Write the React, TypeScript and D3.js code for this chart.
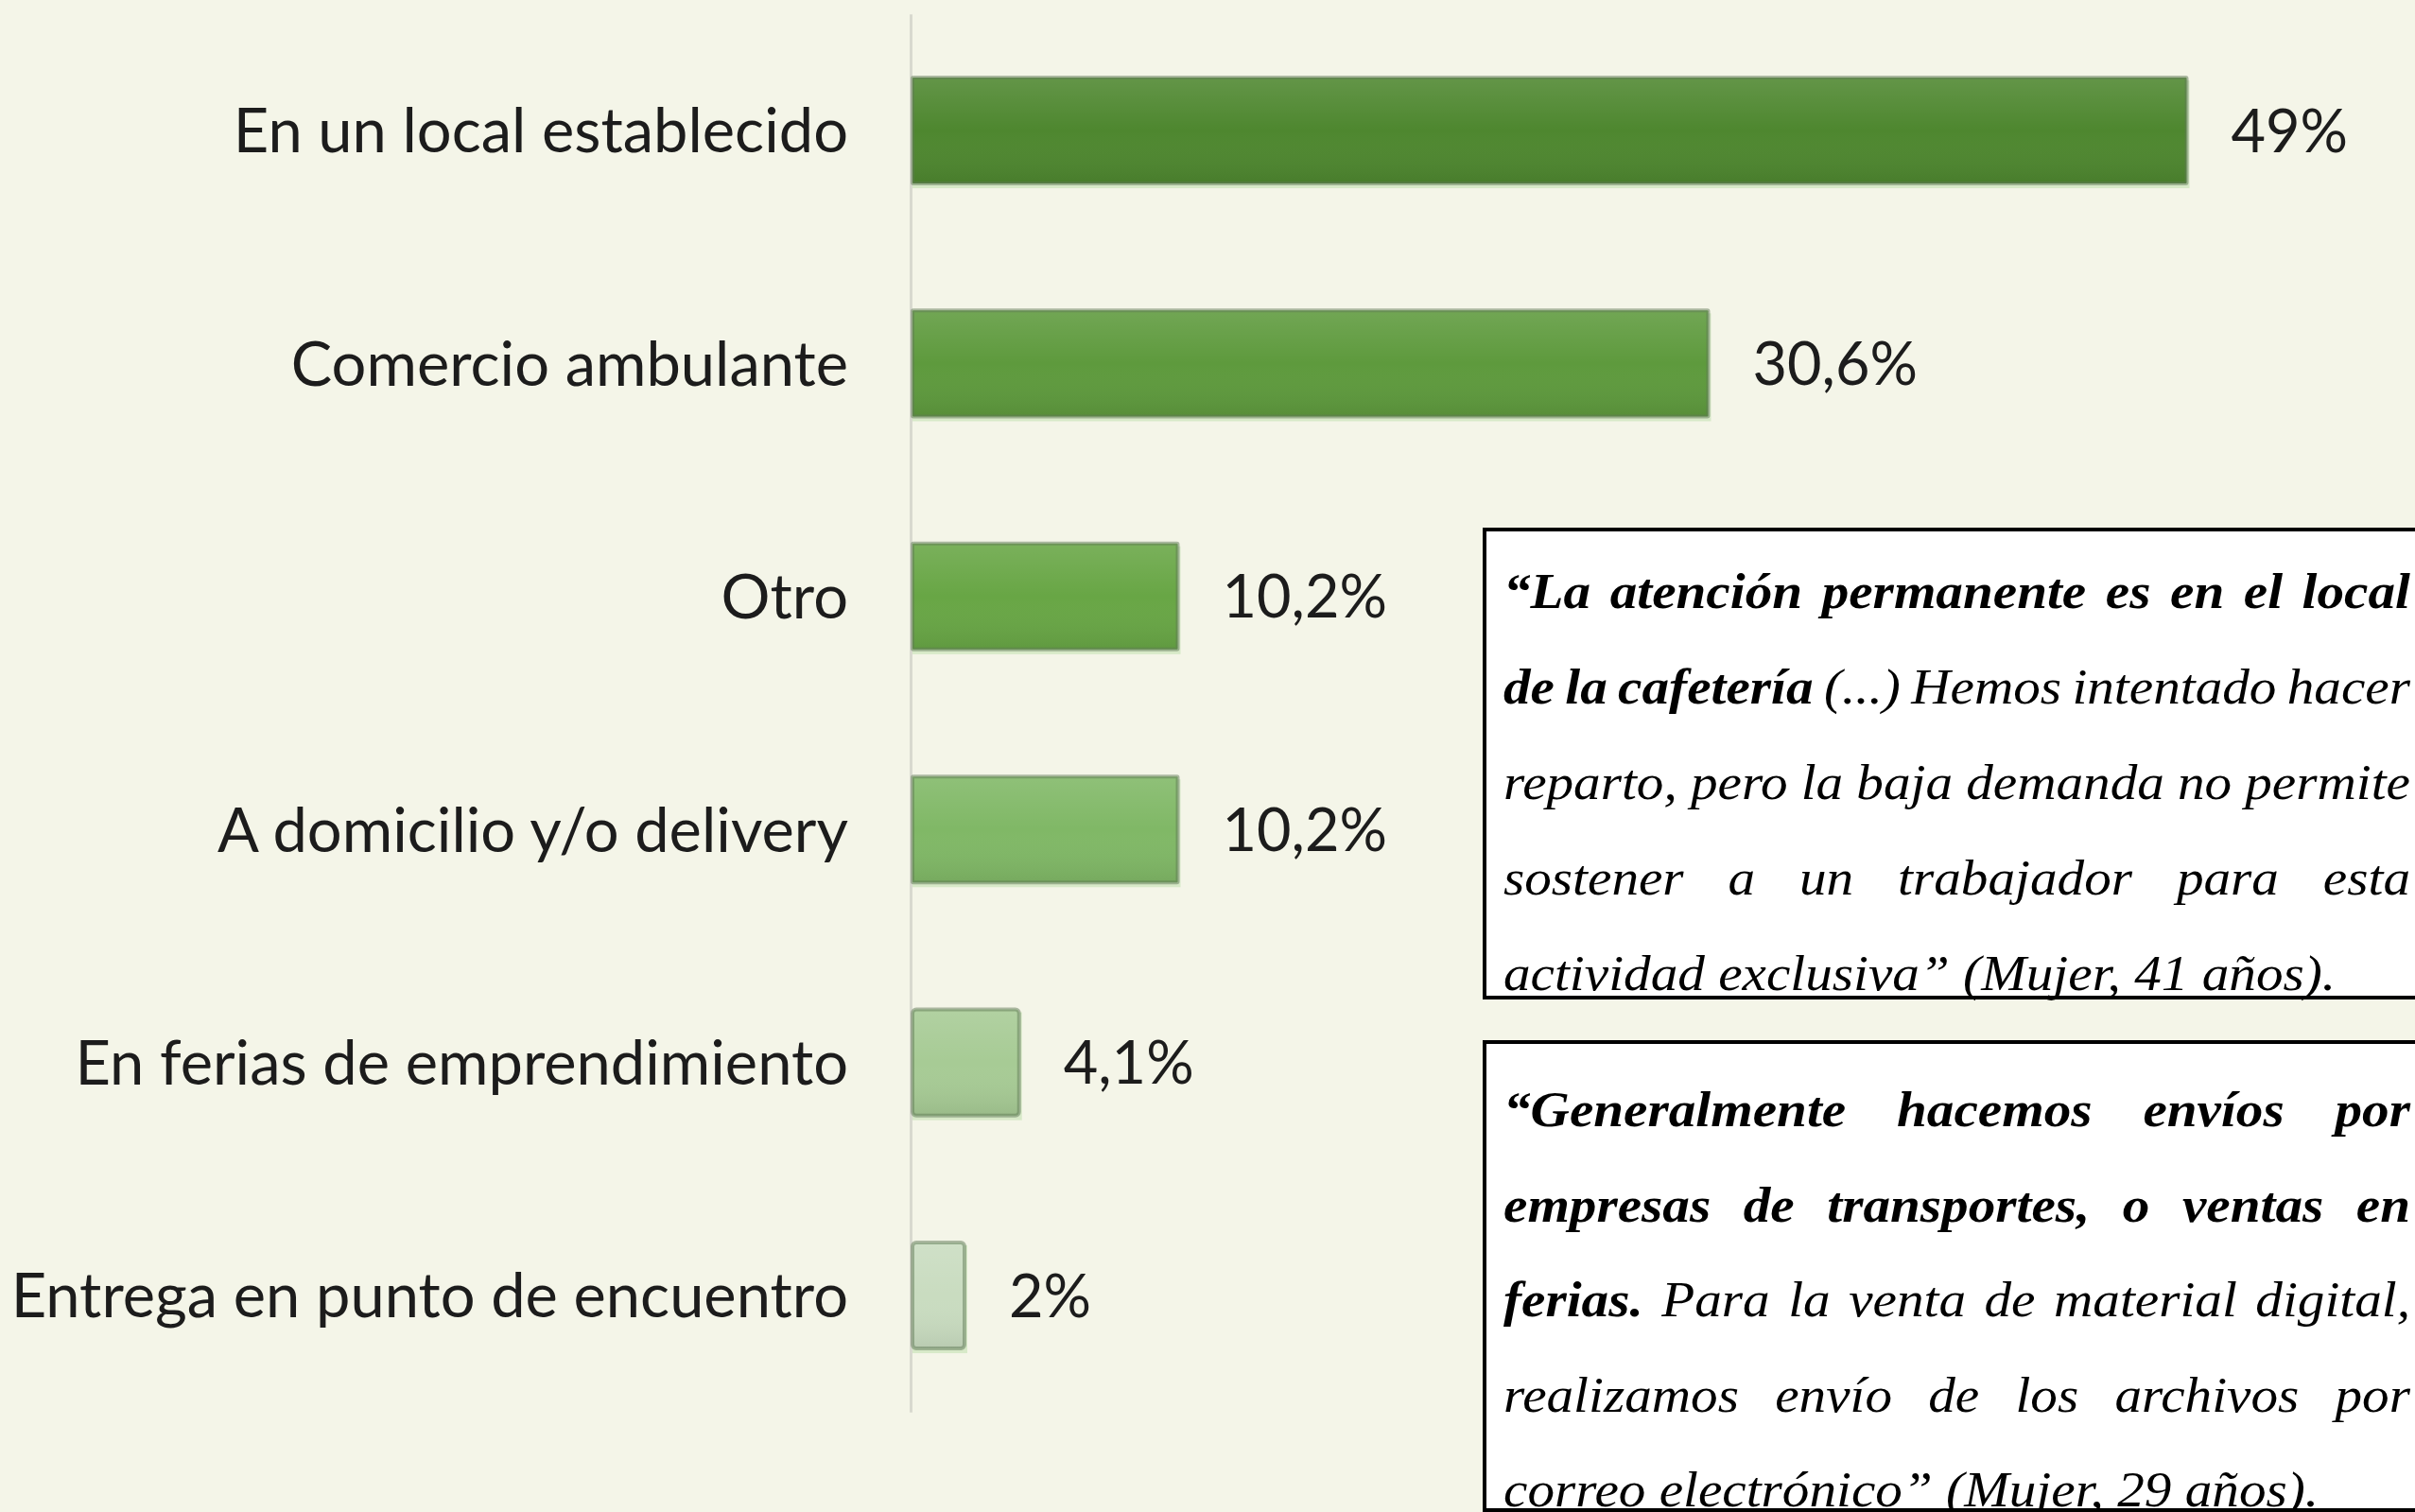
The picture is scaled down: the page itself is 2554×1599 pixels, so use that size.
import React, { useEffect, useRef } from "react";
import * as d3 from "d3";

// chart data
const categories = [
  "En un local establecido",
  "Comercio ambulante",
  "Otro",
  "A domicilio y/o delivery",
  "En ferias de emprendimiento",
  "Entrega en punto de encuentro",
];
const values = [49, 30.6, 10.2, 10.2, 4.1, 2];

// quote boxes: each line is [bold part, regular part]
const quoteOneLines = [
  ["“La atención permanente es en el local", ""],
  ["de la cafetería", "(...) Hemos intentado hacer"],
  ["", "reparto, pero la baja demanda no permite"],
  ["", "sostener a un trabajador para esta"],
  ["", "actividad exclusiva” (Mujer, 41 años)."],
];
const quoteTwoLines = [
  ["“Generalmente hacemos envíos por", ""],
  ["empresas de transportes, o ventas en", ""],
  ["ferias.", "Para la venta de material digital,"],
  ["", "realizamos envío de los archivos por"],
  ["", "correo electrónico” (Mujer, 29 años)."],
];

const barColors = ["#4e872f", "#5e9a3d", "#68a645", "#80b866", "#a7cb95", "#c9dcc0"];

const W = 2554;
const H = 1599;
const labelFont = "Lato, 'Open Sans', sans-serif";
const quoteFont = "'Liberation Serif', 'Times New Roman', serif";
const quoteSize = 52;
const quoteStretch = 1.1;

const esLocale = d3.formatLocale({
  decimal: ",",
  thousands: ".",
  grouping: [3],
  currency: ["", ""],
});
const fmt = (v: number) => esLocale.format("~g")(v) + "%";

const boxes = [
  { lines: quoteOneLines, top: 560, bottom: 1055, first: 643, step: 101 },
  { lines: quoteTwoLines, top: 1102, bottom: 1597, first: 1191, step: 100.5 },
];
const boxLeft = 1570;
const textLeft = 1590;
const textRight = 2549;

export default function App() {
  const axisRef = useRef<SVGGElement | null>(null);
  const quotesRef = useRef<SVGGElement | null>(null);

  const x = d3.scaleLinear().domain([0, 50]).range([965, 2340]);
  const y = d3
    .scaleBand()
    .domain(categories)
    .range([14.8, 1493.2])
    .paddingInner(0.545)
    .paddingOuter(0.2725);

  useEffect(() => {
    const g = d3.select(axisRef.current);
    g.call(d3.axisLeft(y).tickSize(0).tickSizeOuter(0).tickPadding(66));
    g.select(".domain").attr("stroke", "#d8d9cf").attr("stroke-width", 3);
    g.selectAll(".tick text")
      .attr("font-family", labelFont)
      .attr("font-size", 65)
      .attr("fill", "#1c1c1c")
      .attr("dy", "0.36em");
  }, []);

  useEffect(() => {
    const g = d3.select(quotesRef.current);
    g.selectAll("*").remove();
    boxes.forEach((box) => {
      box.lines.forEach(([bold, regular], li) => {
        const words = [
          ...bold.split(" ").filter(Boolean).map((t) => ({ t, b: true })),
          ...regular.split(" ").filter(Boolean).map((t) => ({ t, b: false })),
        ];
        const baseline = box.first + li * box.step;
        const texts = words.map((w) =>
          g
            .append("text")
            .attr("font-family", quoteFont)
            .attr("font-size", quoteSize)
            .attr("font-style", "italic")
            .attr("font-weight", w.b ? "bold" : "normal")
            .attr("fill", "#000")
            .text(w.t)
        );
        const widths = texts.map(
          (t) => (t.node() as SVGTextElement).getComputedTextLength() * quoteStretch
        );
        const total = d3.sum(widths);
        const last = li === box.lines.length - 1;
        const gap = last
          ? quoteSize * 0.25 * quoteStretch
          : (textRight - textLeft - total) / (words.length - 1);
        let cx = textLeft;
        texts.forEach((t, i) => {
          t.attr("transform", `translate(${cx},${baseline}) scale(${quoteStretch},1)`);
          cx += widths[i] + gap;
        });
      });
    });
  }, []);

  return (
    <svg
      width={W}
      height={H}
      style={{ position: "absolute", left: 0, top: 0, display: "block" }}
    >
      <defs>
        <linearGradient id="barShade" x1="0" y1="0" x2="0" y2="1">
          <stop offset="0" stopColor="#ffffff" stopOpacity={0.12} />
          <stop offset="0.5" stopColor="#ffffff" stopOpacity={0} />
          <stop offset="1" stopColor="#000000" stopOpacity={0.08} />
        </linearGradient>
      </defs>
      <rect width={W} height={H} fill="#f4f5e8" />

      <g ref={axisRef} transform={`translate(963,0)`} />

      {categories.map((c, i) => {
        const bx = x(0);
        const by = y(c) as number;
        const bw = x(values[i]) - x(0);
        const bh = y.bandwidth();
        return (
          <g key={c}>
            <rect x={bx} y={by + 3} width={bw + 3} height={bh + 2} fill="#cfe6bf" opacity={0.8} />
            <rect x={bx} y={by} width={bw} height={bh} fill={barColors[i]} rx={i > 3 ? 4 : 1} />
            <rect
              x={bx}
              y={by}
              width={bw}
              height={bh}
              fill="url(#barShade)"
              stroke="#5f7a55"
              strokeOpacity={0.5}
              strokeWidth={4}
              rx={i > 3 ? 4 : 1}
            />
            <text
              x={x(values[i]) + 47}
              y={by + bh / 2}
              dy="0.36em"
              fontFamily={labelFont}
              fontSize={63}
              fill="#1c1c1c"
            >
              {fmt(values[i])}
            </text>
          </g>
        );
      })}

      {boxes.map((b, i) => (
        <rect
          key={i}
          x={boxLeft}
          y={b.top}
          width={W - boxLeft + 20}
          height={b.bottom - b.top}
          fill="#ffffff"
          stroke="#000"
          strokeWidth={4}
        />
      ))}
      <g ref={quotesRef} />
    </svg>
  );
}
